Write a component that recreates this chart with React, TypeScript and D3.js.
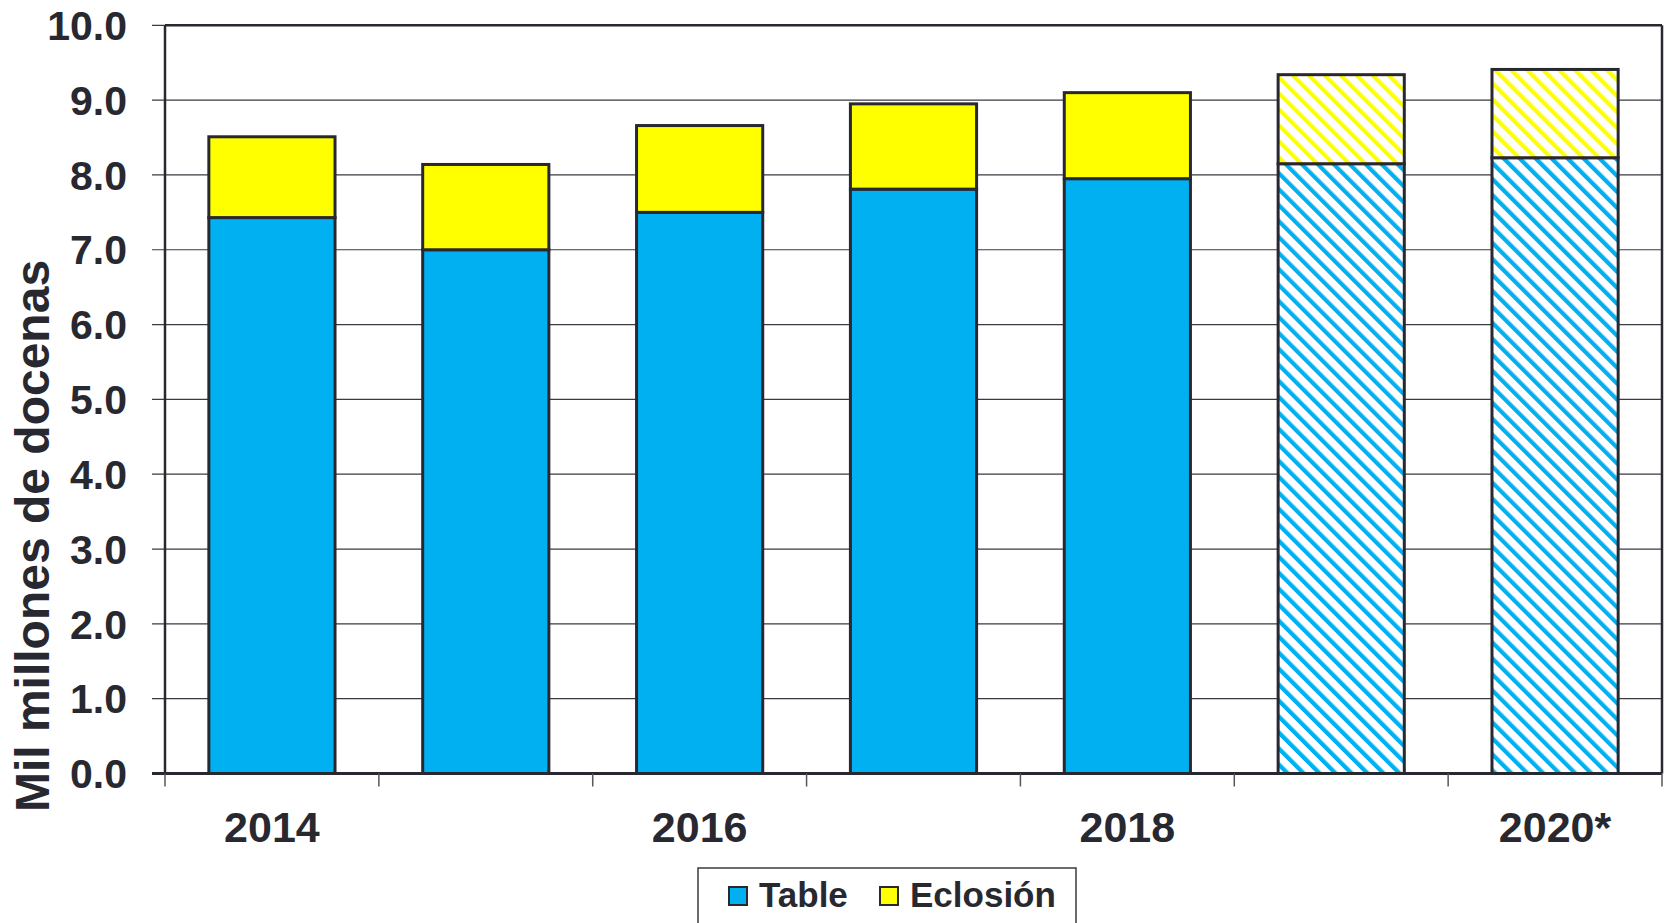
import React from "react";
import * as d3 from "d3";

const categories = ["2014", "2015", "2016", "2017", "2018", "2019", "2020*"];
const xTickLabels = ["2014", "", "2016", "", "2018", "", "2020*"];
const tableValues = [7.43, 7.0, 7.5, 7.81, 7.95, 8.15, 8.23];
const eclosionValues = [1.08, 1.14, 1.16, 1.14, 1.15, 1.19, 1.18];
const projected = [false, false, false, false, false, true, true];
const yTicks = [0, 1, 2, 3, 4, 5, 6, 7, 8, 9, 10];
const seriesNames = ["Table", "Eclosión"];
const seriesColors = ["#00b0f0", "#ffff00"];

const W = 1665;
const H = 923;
const M = { left: 165, right: 3, top: 25.3, bottom: 149.5 };
const INK = "#282830";
const FONT = "'Liberation Sans', Arial, sans-serif";

export default function App() {
  const x = d3
    .scaleBand<string>()
    .domain(categories)
    .range([M.left, W - M.right])
    .paddingInner(0.41)
    .paddingOuter(0.205);
  const y = d3.scaleLinear().domain([0, 10]).range([H - M.bottom, M.top]);
  const step = x.step();
  const x0 = M.left;
  const x1 = W - M.right;

  return (
    <svg
      width={W}
      height={H}
      style={{ position: "absolute", left: 0, top: 0, background: "#fff" }}
      fontFamily={FONT}
    >
      <defs>
        {seriesColors.map((c, i) => (
          <pattern
            key={i}
            id={`hatch${i}`}
            patternUnits="userSpaceOnUse"
            width={11.3}
            height={11.3}
            patternTransform="rotate(-45)"
          >
            <rect x={0} y={0} width={11.3} height={11.3} fill="#fff" />
            <rect x={0} y={0} width={4.2} height={11.3} fill={c} />
          </pattern>
        ))}
      </defs>

      {/* gridlines */}
      {yTicks.map((t) => (
        <line
          key={t}
          x1={x0 - 13}
          x2={x1}
          y1={y(t)}
          y2={y(t)}
          stroke="#3a3a42"
          strokeWidth={1.2}
        />
      ))}

      {/* y tick labels */}
      {yTicks.map((t) => (
        <text
          key={t}
          x={127}
          y={y(t) + 14.7}
          textAnchor="end"
          fontSize={41}
          fontWeight="bold"
          fill={INK}
        >
          {t.toFixed(1)}
        </text>
      ))}

      {/* bars */}
      {categories.map((c, i) => {
        const bx = x(c)!;
        const bw = x.bandwidth();
        const t = tableValues[i];
        const e = eclosionValues[i];
        return (
          <g key={c}>
            <rect
              x={bx}
              y={y(t)}
              width={bw}
              height={y(0) - y(t)}
              fill={projected[i] ? "url(#hatch0)" : seriesColors[0]}
              stroke={INK}
              strokeWidth={3}
            />
            <rect
              x={bx}
              y={y(t + e)}
              width={bw}
              height={y(t) - y(t + e)}
              fill={projected[i] ? "url(#hatch1)" : seriesColors[1]}
              stroke={INK}
              strokeWidth={3}
            />
          </g>
        );
      })}

      {/* plot frame */}
      <line x1={x0} x2={x1} y1={M.top} y2={M.top} stroke={INK} strokeWidth={2.5} />
      <line x1={x1} x2={x1} y1={M.top} y2={y(0)} stroke={INK} strokeWidth={2.5} />
      <line x1={x0} x2={x0} y1={M.top} y2={y(0)} stroke={INK} strokeWidth={2.5} />
      <line x1={x0 - 13} x2={x1} y1={y(0)} y2={y(0)} stroke={INK} strokeWidth={3} />

      {/* x ticks */}
      {d3.range(categories.length + 1).map((k) => (
        <line
          key={k}
          x1={x0 + k * step}
          x2={x0 + k * step}
          y1={y(0)}
          y2={y(0) + 13}
          stroke="#55555c"
          strokeWidth={1.5}
        />
      ))}

      {/* x labels */}
      {categories.map((c, i) => (
        <text
          key={c}
          x={x(c)! + x.bandwidth() / 2}
          y={842}
          textAnchor="middle"
          fontSize={43}
          fontWeight="bold"
          fill={INK}
        >
          {xTickLabels[i]}
        </text>
      ))}

      {/* y axis title */}
      <text
        transform={`translate(49, 536) rotate(-90)`}
        textAnchor="middle"
        fontSize={48}
        fontWeight="bold"
        fill={INK}
      >
        Mil millones de docenas
      </text>

      {/* legend */}
      <rect x={698} y={868} width={378} height={80} fill="#fff" stroke="#3a3a42" strokeWidth={1.5} />
      {seriesNames.map((n, i) => {
        const lx = [729, 880][i];
        return (
          <g key={n}>
            <rect x={lx} y={887} width={18} height={18} fill={seriesColors[i]} stroke={INK} strokeWidth={2} />
            <text x={lx + 30} y={907} fontSize={35} fontWeight="bold" fill={INK}>
              {n}
            </text>
          </g>
        );
      })}
    </svg>
  );
}
